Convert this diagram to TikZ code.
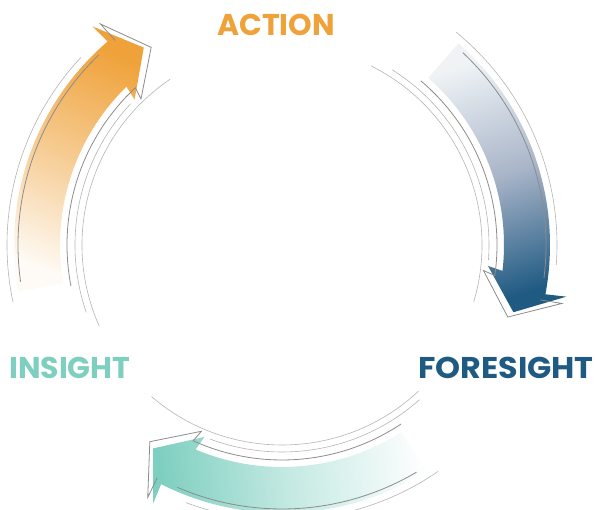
\documentclass[tikz,border=0pt]{standalone}
\usepackage{fontspec}
\setmainfont{Poppins}
\definecolor{actioncol}{HTML}{EFA23A}
\definecolor{foresightcol}{HTML}{1F5A82}
\definecolor{insightcol}{HTML}{7ECFC0}
\definecolor{linegray}{HTML}{8C8C8C}
\definecolor{lightgray}{HTML}{B4B4B4}

% #1 = angle of the tip, #2 = shading of the body
\newcommand{\cyclearrow}[2]{
  \shade[#2] ({#1+65}:268) arc[start angle={#1+65}, end angle={#1+5.6}, radius=268]
    -- ({#1+5.9}:289) -- (#1:241) -- ({#1+10.4}:207) -- ({#1+9.5}:222)
    arc[start angle={#1+9.5}, end angle={#1+65}, radius=222] -- cycle;
  % outline behind the body
  \draw[thinline] ({#1+63}:264) arc[start angle={#1+63}, end angle={#1+9}, radius=264];
  \draw[thinline] ({#1+4.2}:264) -- ({#1+4.4}:286) -- ({#1-1.5}:237) -- ({#1+9}:203) -- ({#1+8}:215)
    arc[start angle={#1+8}, end angle={#1+66}, radius=215];
  % arcs on both sides
  \draw[faintline] ({#1+12}:275) arc[start angle={#1+12}, end angle={#1+67}, radius=275];
  \draw[faintline] ({#1+12}:207) arc[start angle={#1+12}, end angle={#1+74}, radius=207];
}

\begin{document}
\begin{tikzpicture}[x=1pt, y=1pt,
    thinline/.style={draw=linegray, line width=0.8pt},
    faintline/.style={draw=lightgray, line width=0.6pt},
    steplabel/.style={inner sep=0pt, font=\fontsize{30}{36}\selectfont\bfseries}]
  \useasboundingbox (0,0) rectangle (597,510);

  \begin{scope}[shift={(282,265)}]
    \cyclearrow{125}{top color=actioncol, bottom color=actioncol!5!white, middle color=actioncol!55!white, shading angle=-23}
    \cyclearrow{-16.2}{top color=white!93!foresightcol, bottom color=foresightcol, middle color={rgb,255:red,168;green,180;blue,200}, shading angle=18}
    \cyclearrow{-122.4}{top color=insightcol, bottom color=insightcol!3!white, middle color=insightcol!45!white, shading angle=96}
    % inner circle pieces
    \draw[faintline] (124:200) arc[start angle=124, end angle=204, radius=200];
    \draw[faintline] (63.6:200) arc[start angle=63.6, end angle=-16.5, radius=200];
    \draw[faintline] (-47:200) arc[start angle=-47, end angle=-130.7, radius=200];
  \end{scope}

  \node[steplabel, text=actioncol] (action) at (276,485) {ACTION};
  \node[steplabel, text=foresightcol, anchor=east, xscale=1.06, transform shape] (foresight) at (594,142) {FORESIGHT};
  \node[steplabel, text=insightcol, anchor=west] (insight) at (9,142) {INSIGHT};
\end{tikzpicture}
\end{document}
